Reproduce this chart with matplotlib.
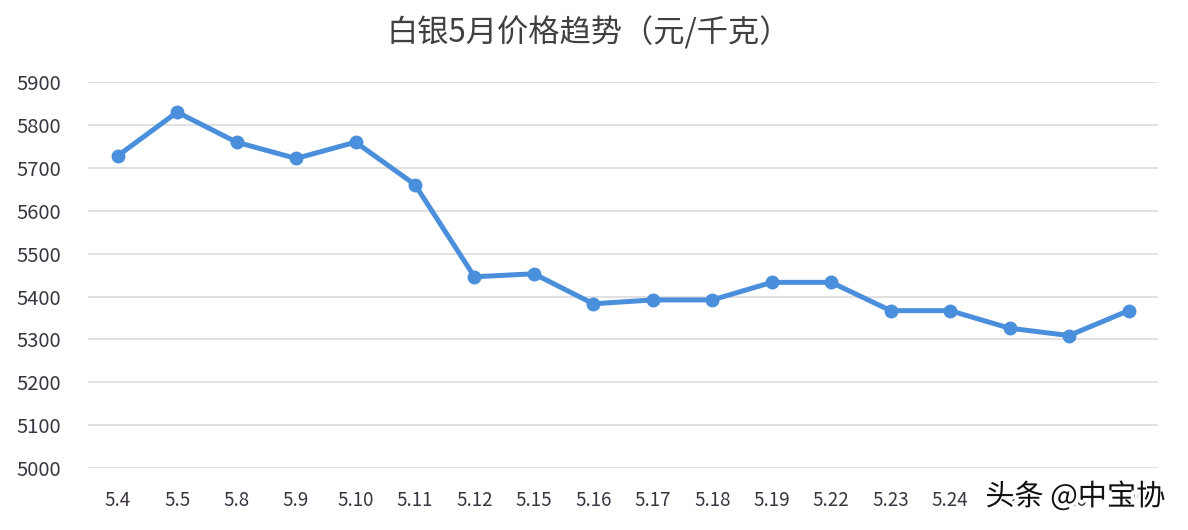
import matplotlib
matplotlib.use("Agg")
import matplotlib.pyplot as plt
import matplotlib.patheffects as pe

plt.rcParams['font.family'] = ['Noto Sans CJK SC', 'DejaVu Sans']

dates = ['5.4', '5.5', '5.8', '5.9', '5.10', '5.11', '5.12', '5.15', '5.16',
         '5.17', '5.18', '5.19', '5.22', '5.23', '5.24', '5.25', '5.26', '5.29']
prices = [5728, 5830, 5760, 5722, 5760, 5661, 5446, 5453, 5383,
          5392, 5392, 5433, 5433, 5367, 5367, 5326, 5309, 5367]
yticks = list(range(5000, 5901, 100))

fig = plt.figure(figsize=(11.88, 5.3), dpi=100)
ax = fig.add_axes([0.074, 0.117, 0.901, 0.728])

x = list(range(len(dates)))
ax.plot(x, prices, color="#4a8fdb", linewidth=3.6, marker="o", markersize=9,
        clip_on=False, zorder=3)

ax.set_xlim(-0.5, len(dates) - 0.5)
ax.set_ylim(5000, 5900)
ax.set_yticks(yticks)
ax.set_xticks(x)
ax.set_xticklabels(dates)
ax.grid(axis="y", color="#d9d9d9", linewidth=1.1)
ax.set_axisbelow(True)
for s in ax.spines.values():
    s.set_visible(False)
ax.tick_params(axis="y", length=0, pad=19, labelsize=14.5, labelcolor="#3a3440")
ax.tick_params(axis="x", length=0, pad=16, labelsize=13.5, labelcolor="#3a3440")

fig.text(0.496, 0.938, "白银5月价格趋势（元/千克）", ha="center", va="center",
         fontsize=22.5, color="#404040")

# watermark over the last labels, as in the source image
fig.text(0.905, 0.062, "头条 @中宝协", ha="center", va="center", fontsize=21,
         color="#111111",
         path_effects=[pe.withStroke(linewidth=5, foreground="white")])

fig.savefig("out.png", dpi=100, facecolor="white")
